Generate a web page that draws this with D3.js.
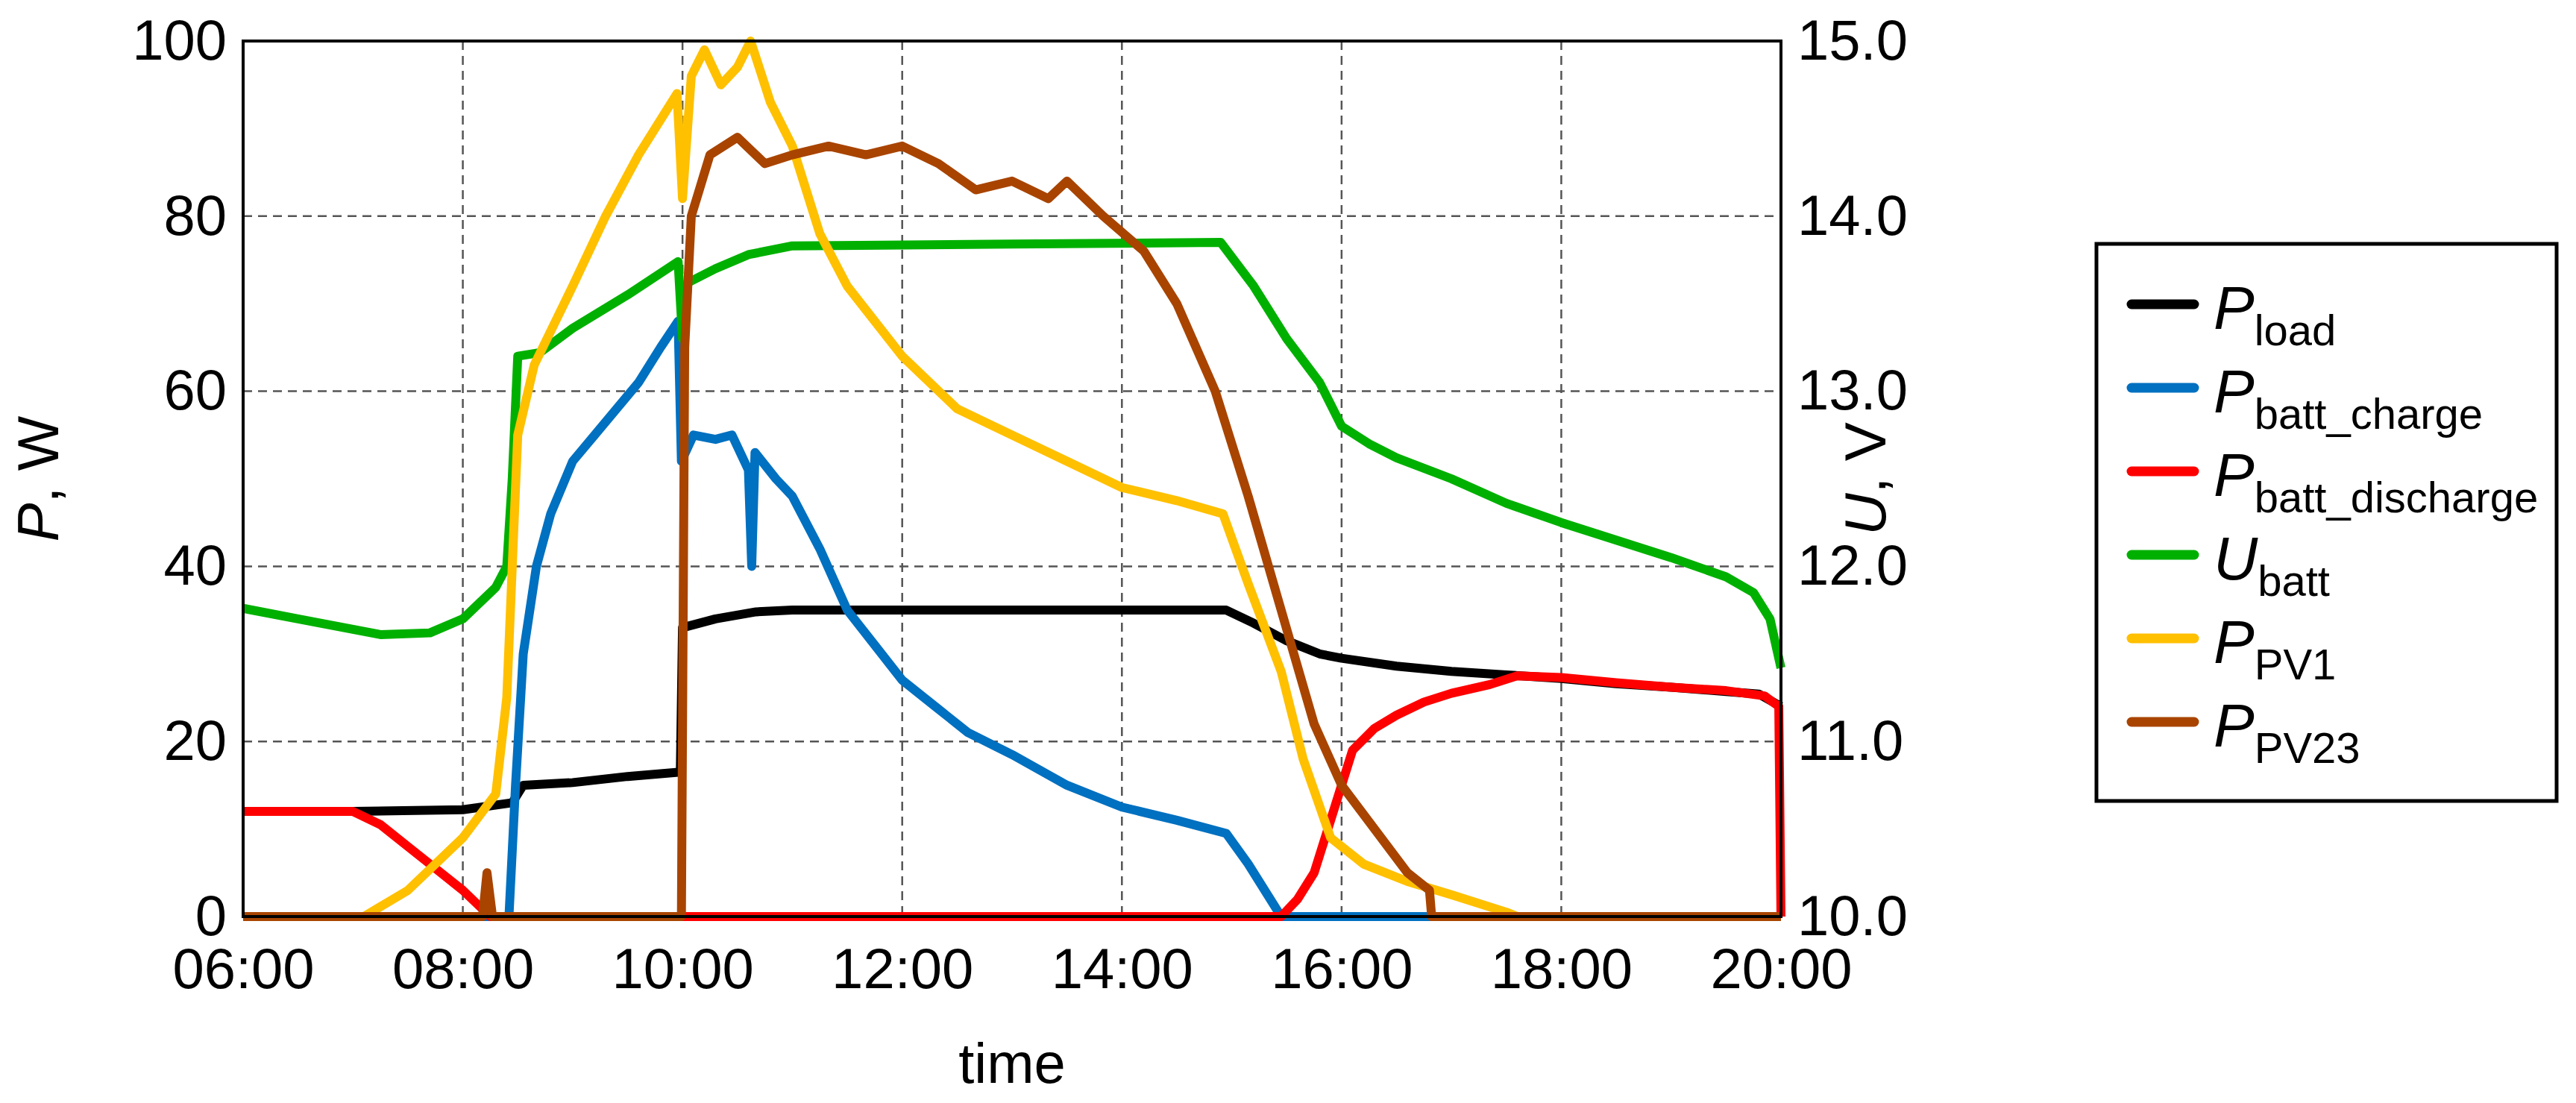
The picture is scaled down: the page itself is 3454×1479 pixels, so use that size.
<!DOCTYPE html>
<html><head><meta charset="utf-8">
<script src="https://cdn.jsdelivr.net/npm/d3@7"></script>
<style>body{margin:0;background:#fff}text{font-family:Arial,"Liberation Sans",sans-serif}</style>
</head><body><svg id="c" width="3454" height="1479"></svg>
<script>
const xTicks=[6,8,10,12,14,16,18,20];
const xTickLabels=["06:00","08:00","10:00","12:00","14:00","16:00","18:00","20:00"];
const leftTicks=[0,20,40,60,80,100];
const rightTicks=[10,11,12,13,14,15];
// [hour, value]
const pLoad=[[6,12],[7,12],[8,12.2],[8.45,13],[8.55,15],[9,15.3],[9.5,16],[9.98,16.5],[10.0,33],[10.3,34],[10.67,34.8],[11,35],[14.95,35],[15.2,33.5],[15.5,31.5],[15.8,30],[16,29.5],[16.5,28.6],[17,28],[17.5,27.6],[18,27.2],[18.5,26.6],[19,26.2],[19.5,25.7],[19.8,25.4],[20,24]];
const pCharge=[[6,0],[8.42,0],[8.48,15],[8.55,30],[8.67,40],[8.8,46],[9,52],[9.2,55],[9.4,58],[9.6,61],[9.8,65],[9.96,68],[9.99,52],[10.1,55],[10.3,54.5],[10.45,55],[10.6,51],[10.63,40],[10.66,53],[10.85,50],[11,48],[11.25,42],[11.5,35],[11.75,31],[12,27],[12.3,24],[12.6,21],[13,18.5],[13.5,15],[14,12.5],[14.5,11],[14.95,9.5],[15.15,6],[15.45,0],[20,0]];
const pDischarge=[[6,12],[7,12],[7.25,10.5],[7.5,8],[7.75,5.5],[8,3],[8.25,0],[15.45,0],[15.6,2],[15.75,5],[15.9,11],[16,15],[16.1,19],[16.3,21.5],[16.5,23],[16.75,24.5],[17,25.5],[17.35,26.5],[17.6,27.5],[18,27.3],[18.5,26.7],[19,26.2],[19.5,25.8],[19.85,25.2],[19.98,24],[20,0]];
const uBatt=[[6,11.76],[6.5,11.7],[7,11.64],[7.25,11.61],[7.7,11.62],[8,11.7],[8.3,11.88],[8.4,12.0],[8.45,12.5],[8.5,13.2],[8.7,13.22],[9,13.36],[9.5,13.55],[9.96,13.74],[10.0,13.3],[10.05,13.62],[10.3,13.7],[10.6,13.78],[11,13.83],[13,13.84],[14.9,13.85],[15.2,13.6],[15.5,13.3],[15.8,13.05],[16,12.8],[16.25,12.7],[16.5,12.62],[17,12.5],[17.5,12.36],[18,12.25],[18.5,12.15],[19,12.05],[19.5,11.94],[19.75,11.85],[19.9,11.7],[20,11.42]];
const pPV1=[[6,0],[7.1,0],[7.5,3],[8,9],[8.3,14],[8.4,25],[8.5,55],[8.65,63],[9,72],[9.3,80],[9.6,87],[9.95,94],[10.0,82],[10.08,96],[10.2,99],[10.35,95],[10.5,97],[10.62,100],[10.8,93],[11,88],[11.25,78],[11.5,72],[12,64],[12.5,58],[13,55],[13.5,52],[14,49],[14.5,47.5],[14.92,46],[15.15,38],[15.45,28],[15.65,18],[15.9,9],[16.2,6],[16.6,4],[17,2.5],[17.5,0.5],[17.6,0],[20,0]];
const pPV23=[[6,0],[8.18,0],[8.22,5],[8.27,0],[9.99,0],[10.02,65],[10.08,80],[10.25,87],[10.5,89],[10.75,86],[11,87],[11.33,88],[11.67,87],[12,88],[12.33,86],[12.67,83],[13,84],[13.33,82],[13.5,84],[13.83,80],[14.2,76],[14.5,70],[14.85,60],[15.15,48],[15.45,35],[15.75,22],[16,15],[16.3,10],[16.6,5],[16.8,3],[16.82,0],[20,0]];
const series=[
 {name:"load",data:pLoad,color:"#000000",ax:"L"},
 {name:"batt_charge",data:pCharge,color:"#0070C0",ax:"L"},
 {name:"batt_discharge",data:pDischarge,color:"#FF0000",ax:"L"},
 {name:"batt",data:uBatt,color:"#00B000",ax:"R",main:"U"},
 {name:"PV1",data:pPV1,color:"#FFC000",ax:"L"},
 {name:"PV23",data:pPV23,color:"#A84400",ax:"L"}];

const svg=d3.select("#c");
const L=326,R=2388,T=55,B=1229;
const x=d3.scaleLinear().domain([6,20]).range([L,R]);
const yL=d3.scaleLinear().domain([0,100]).range([B,T]);
const yR=d3.scaleLinear().domain([10,15]).range([B,T]);
const g=svg.append("g");
g.selectAll(".vg").data(xTicks.slice(1,-1)).enter().append("line").attr("x1",d=>x(d)).attr("x2",d=>x(d)).attr("y1",T).attr("y2",B).attr("stroke","#555").attr("stroke-width",2.5).attr("stroke-dasharray","12,8");
g.selectAll(".hg").data(leftTicks.slice(1,-1)).enter().append("line").attr("y1",d=>yL(d)).attr("y2",d=>yL(d)).attr("x1",L).attr("x2",R).attr("stroke","#555").attr("stroke-width",2.5).attr("stroke-dasharray","12,8");
series.forEach(s=>{
 const ys=s.ax==="L"?yL:yR;
 g.append("path").datum(s.data).attr("fill","none").attr("stroke",s.color).attr("stroke-width",12).attr("stroke-linejoin","round")
  .attr("d",d3.line().x(d=>x(d[0])).y(d=>ys(d[1])));
});
g.append("rect").attr("x",L).attr("y",T).attr("width",R-L).attr("height",B-T).attr("fill","none").attr("stroke","#000").attr("stroke-width",4);
const fs=76;
const ax1=svg.append("g").attr("transform",`translate(${L},0)`).call(d3.axisLeft(yL).tickValues(leftTicks).tickSize(0).tickPadding(22));
const ax2=svg.append("g").attr("transform",`translate(${R},0)`).call(d3.axisRight(yR).tickValues(rightTicks).tickSize(0).tickPadding(22).tickFormat(d3.format(".1f")));
const ax3=svg.append("g").attr("transform",`translate(0,${B})`).call(d3.axisBottom(x).tickValues(xTicks).tickSize(0).tickPadding(42).tickFormat((d,i)=>xTickLabels[i]));
[ax1,ax2,ax3].forEach(a=>{a.select(".domain").remove();a.selectAll("text").attr("font-size",fs).attr("fill","#000").attr("font-family","Arial,'Liberation Sans',sans-serif");});
const t1=svg.append("text").attr("transform","translate(78,642) rotate(-90)").attr("text-anchor","middle").attr("font-size",78);
t1.append("tspan").attr("font-style","italic").text("P");t1.append("tspan").text(", W");
const t2=svg.append("text").attr("transform","translate(2528,642) rotate(-90)").attr("text-anchor","middle").attr("font-size",78);
t2.append("tspan").attr("font-style","italic").text("U");t2.append("tspan").text(", V");
svg.append("text").attr("x",(L+R)/2).attr("y",1452).attr("text-anchor","middle").attr("font-size",76).text("time");
svg.append("rect").attr("x",2811).attr("y",327).attr("width",617).attr("height",747).attr("fill","#fff").attr("stroke","#000").attr("stroke-width",5);
series.forEach((s,i)=>{
 const yy=408+i*112;
 svg.append("line").attr("x1",2858).attr("x2",2942).attr("y1",yy).attr("y2",yy).attr("stroke",s.color).attr("stroke-width",13).attr("stroke-linecap","round");
 const t=svg.append("text").attr("x",2968).attr("y",yy+33).attr("font-size",82);
 t.append("tspan").attr("font-style","italic").text(s.main||"P");
 t.append("tspan").attr("font-size",58).attr("dy",22).text(s.name);
});
</script></body></html>
